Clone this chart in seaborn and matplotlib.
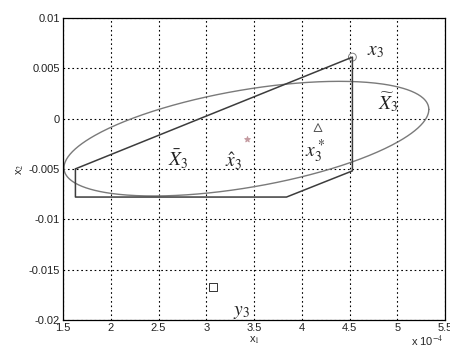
import numpy as np
import pandas as pd
import matplotlib
matplotlib.use("Agg")
import matplotlib.pyplot as plt
import seaborn as sns

# x values are in units of 1e-4 (shown as "x 10^-4" on the axis)
# uncertainty ellipse: centre and affine shape matrix
ellipse_center = [3.42, -0.0020]
ellipse_shape = [[1.91, 0.0], [0.0029, 0.0049]]

# polygon (set X bar) vertices, closed
poly_x1 = [1.63, 1.63, 3.84, 4.53, 4.53, 1.63]
poly_x2 = [-0.0050, -0.0078, -0.0078, -0.0052, 0.0061, -0.0050]

# points
pt_names = ["x3", "x3_hat", "x3_star", "y3"]
pt_x1 = [4.53, 3.43, 4.17, 3.07]
pt_x2 = [0.0061, -0.0020, -0.0009, -0.0167]

x_ticks = [1.5, 2, 2.5, 3, 3.5, 4, 4.5, 5, 5.5]
y_ticks = [-0.02, -0.015, -0.01, -0.005, 0, 0.005, 0.01]

sns.set_style("white")
plt.rcParams['font.family'] = ['Liberation Sans', 'DejaVu Sans']
plt.rcParams['mathtext.fontset'] = 'stix'

fig = plt.figure(figsize=(4.5, 3.57), dpi=100)
ax = fig.add_axes([0.14, 0.104, 0.849, 0.846])

# ellipse outline
t = np.linspace(0, 2 * np.pi, 400)
M = np.array(ellipse_shape)
pts = np.array(ellipse_center)[:, None] + M @ np.vstack([np.cos(t), np.sin(t)])
ell = pd.DataFrame({"x1": pts[0], "x2": pts[1]})
sns.lineplot(data=ell, x="x1", y="x2", sort=False, estimator=None,
             color="#7a7a7a", lw=1.0, ax=ax)

poly = pd.DataFrame({"x1": poly_x1, "x2": poly_x2})
sns.lineplot(data=poly, x="x1", y="x2", sort=False, estimator=None,
             color="#3c3c3c", lw=1.1, ax=ax)

pts_df = pd.DataFrame({"name": pt_names, "x1": pt_x1, "x2": pt_x2})
styles = {
    "x3": dict(marker="o", s=32, facecolors="none", edgecolors="#808080"),
    "x3_hat": dict(marker="*", s=18, color="#c49aa0", edgecolors="#c49aa0"),
    "x3_star": dict(marker="^", s=32, facecolors="none", edgecolors="#555555"),
    "y3": dict(marker="s", s=32, facecolors="none", edgecolors="#333333"),
}
for name, kw in styles.items():
    sub = pts_df[pts_df["name"] == name]
    sns.scatterplot(data=sub, x="x1", y="x2", ax=ax, linewidth=0.7, **kw)

lab = dict(fontsize=14, color="#222222")
ax.text(4.68, 0.0063, r"$x_3$", **lab)
ax.text(4.8, 0.0009, r"$\widetilde{X}_3$", **lab)
ax.text(2.6, -0.0047, r"$\bar{X}_3$", **lab)
ax.text(3.2, -0.0048, r"$\hat{x}_3$", **lab)
ax.text(4.03, -0.0038, r"$x_3^*$", **lab)
ax.text(3.28, -0.0195, r"$y_3$", **lab)

ax.set_xlim(1.5, 5.5)
ax.set_ylim(-0.02, 0.01)
ax.set_xticks(x_ticks)
ax.set_xticklabels(["1.5", "2", "2.5", "3", "3.5", "4", "4.5", "5", "5.5"])
ax.set_yticks(y_ticks)
ax.set_yticklabels(["-0.02", "-0.015", "-0.01", "-0.005", "0", "0.005", "0.01"])
ax.tick_params(direction="in", length=3, labelsize=8, colors="#222222", pad=2)
ax.grid(True, color="black", linestyle=(0, (1.5, 2.5)), linewidth=0.8)
for s in ax.spines.values():
    s.set_color("black")
    s.set_linewidth(0.9)

ax.set_xlabel("x$_1$", fontsize=8, labelpad=1)
ax.set_ylabel("x$_2$", fontsize=8, labelpad=2)
ax.text(0.995, -0.045, r"x 10$^{-4}$", transform=ax.transAxes, fontsize=8,
        ha="right", va="top")

fig.savefig("out.png", dpi=100)
